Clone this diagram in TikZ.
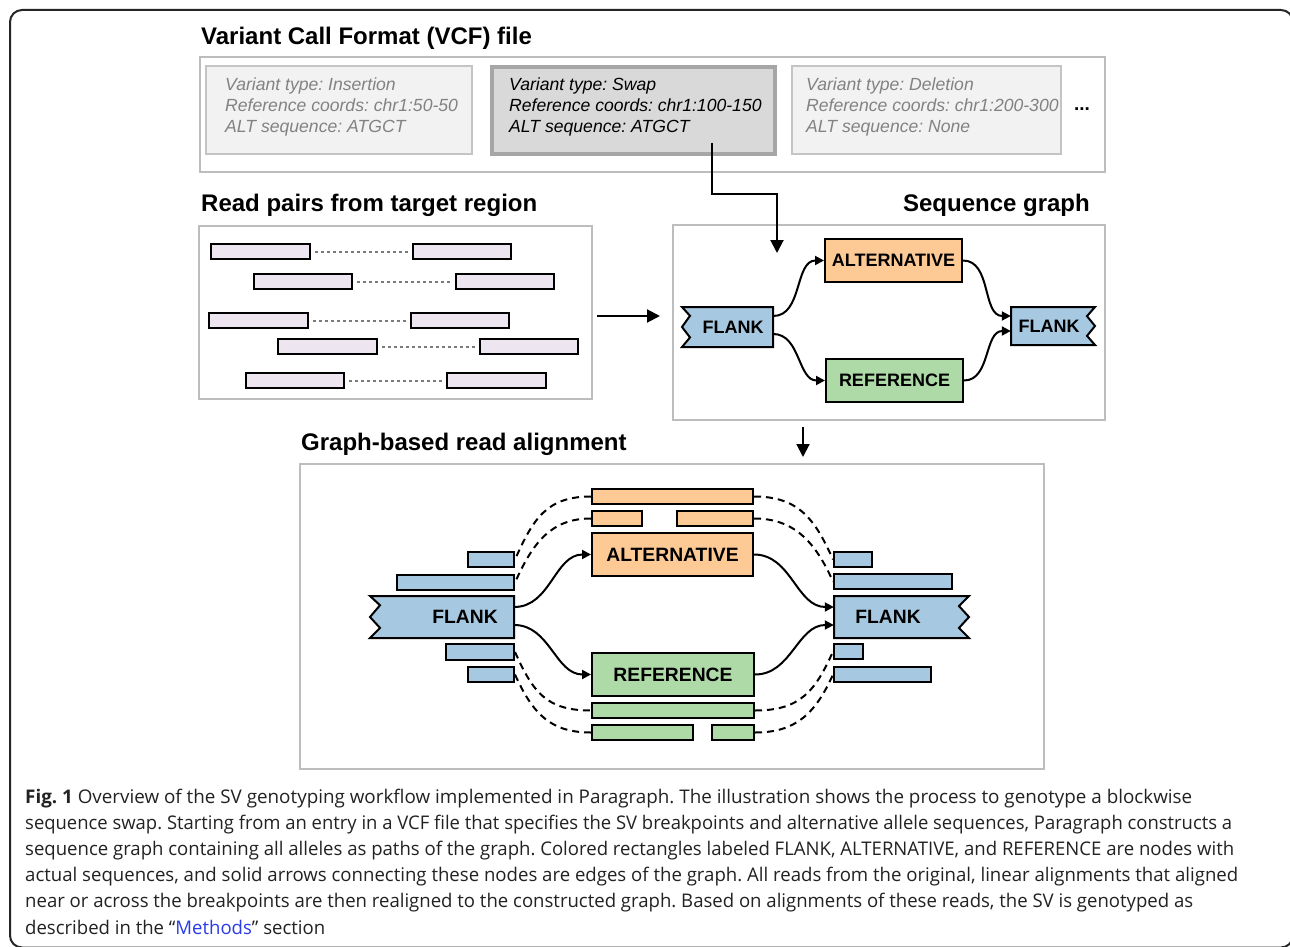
\documentclass[tikz,border=0pt]{standalone}
\usepackage{fontspec}
\usepackage{graphicx}
\setmainfont{Liberation Sans}
\newfontfamily\capfont{Open Sans}
\usetikzlibrary{arrows.meta,calc}
\frenchspacing
\definecolor{flankc}{HTML}{A7C8E1}
\definecolor{altc}{HTML}{FDCA96}
\definecolor{refc}{HTML}{AEDAA7}
\definecolor{readc}{HTML}{EDE6F0}
\definecolor{panelc}{HTML}{BDBDBD}
\definecolor{vcffill}{HTML}{F2F2F2}
\definecolor{vcfborder}{HTML}{C4C4C4}
\definecolor{selfill}{HTML}{D9D9D9}
\definecolor{selborder}{HTML}{A6A6A6}
\definecolor{vcfgray}{HTML}{828282}
\definecolor{dotgray}{HTML}{7A7A7A}
\definecolor{linkc}{HTML}{2B3BE6}
\definecolor{capc}{HTML}{222222}
\newsavebox{\capbox}
\newlength{\caplen}
\newcommand{\capline}[2]{\sbox{\capbox}{#2}\setlength{\caplen}{\wd\capbox}\pgfmathsetmacro{\capsx}{#1/\caplen}\scalebox{\capsx}[1]{\usebox{\capbox}}}
\newcommand{\mkbox}[7]{\node[#6, minimum width={(#4)-(#2)}, minimum height={(#5)-(#3)}] (#1) at ({((#2)+(#4))/2},{((#3)+(#5))/2}) {#7};}
\newcommand{\mkleftflank}[6]{%
  \node[invis, minimum width={(#4)-(#2)}, minimum height={(#5)-(#3)}] (#1) at ({((#2)+(#4))/2},{((#3)+(#5))/2}) {};
  \draw[flankshape] (#4,#3) -- (#2,#3) -- ({#2+#6},{#3+((#5)-(#3))*0.22}) -- (#2,{((#3)+(#5))/2}) -- ({#2+#6},{#3+((#5)-(#3))*0.76}) -- (#2,#5) -- (#4,#5) -- cycle;}
\newcommand{\mkrightflank}[6]{%
  \node[invis, minimum width={(#4)-(#2)}, minimum height={(#5)-(#3)}] (#1) at ({((#2)+(#4))/2},{((#3)+(#5))/2}) {};
  \draw[flankshape] (#2,#3) -- (#4,#3) -- ({#4-#6},{#3+((#5)-(#3))*0.24}) -- (#4,{((#3)+(#5))/2}) -- ({#4-#6},{#3+((#5)-(#3))*0.76}) -- (#4,#5) -- (#2,#5) -- cycle;}
\tikzset{
  panel/.style={draw=panelc, line width=2pt, fill=white, rectangle, inner sep=0pt},
  vcfbox/.style={draw=vcfborder, line width=2pt, fill=vcffill, rectangle, inner sep=0pt},
  vcfsel/.style={draw=selborder, line width=4pt, fill=selfill, rectangle, inner sep=0pt},
  readbar/.style={draw=black, line width=2pt, fill=readc, rectangle, inner sep=0pt},
  altbar/.style={readbar, fill=altc},
  refbar/.style={readbar, fill=refc},
  flankbar/.style={readbar, fill=flankc},
  invis/.style={rectangle, inner sep=0pt},
  flankshape/.style={draw=black, line width=2pt, fill=flankc, line join=miter},
  ttl/.style={font=\fontsize{24}{28}\selectfont\bfseries, inner sep=0pt},
  vcft/.style={font=\fontsize{17.6}{20}\selectfont\itshape, anchor=base west, inner sep=0pt},
  lbl/.style={font=\fontsize{18}{20}\selectfont\bfseries, inner sep=0pt},
  lblbig/.style={font=\fontsize{19.3}{22}\selectfont\bfseries, inner sep=0pt},
  gedge/.style={line width=2pt, -{Triangle[length=9pt,width=9pt]}},
  bigarrow/.style={line width=2pt, -{Triangle[length=13pt,width=13pt]}},
  readlink/.style={draw=dotgray, line width=2pt, dash pattern=on 3pt off 3pt, shorten <=4pt, shorten >=4pt},
  aln/.style={line width=2pt, dash pattern=on 7pt off 5pt},
  capt/.style={anchor=base west, inner sep=0pt, text=capc, font=\capfont\fontsize{18.8}{22}\selectfont},
}
\begin{document}
\begin{tikzpicture}[x=1pt,y=-1pt]
\useasboundingbox (0,0) rectangle (1290,947);
\fill[white] (0,0) rectangle (1290,947);
\begin{scope}
\clip (0,0) rectangle (1290,947);
\draw[line width=2pt, rounded corners=12pt, black!85] (10,10) rectangle (1293,947.5);
\end{scope}

% ---------- VCF panel ----------
\node[ttl, anchor=base west] (tvcf) at (201,45) {Variant Call Format (VCF) file};
\mkbox{vcf}{200}{57}{1105}{172}{panel}{}
\mkbox{vcfa}{206}{66}{472}{154}{vcfbox}{}
\mkbox{vcfb}{492}{67}{775}{154}{vcfsel}{}
\mkbox{vcfc}{792}{66}{1061}{154}{vcfbox}{}
\node[vcft, text=vcfgray] (va1) at (225,91) {Variant type: Insertion};
\node[vcft, text=vcfgray] (va2) at (225,112) {Reference coords: chr1:50-50};
\node[vcft, text=vcfgray] (va3) at (225,132) {ALT sequence: ATGCT};
\node[vcft, text=black] (vb1) at (509,91) {Variant type: Swap};
\node[vcft, text=black] (vb2) at (509,112) {Reference coords: chr1:100-150};
\node[vcft, text=black] (vb3) at (509,132) {ALT sequence: ATGCT};
\node[vcft, text=vcfgray] (vc1) at (806,91) {Variant type: Deletion};
\node[vcft, text=vcfgray] (vc2) at (806,112) {Reference coords: chr1:200-300};
\node[vcft, text=vcfgray] (vc3) at (806,132) {ALT sequence: None};
\node[font=\fontsize{19}{20}\selectfont\bfseries, inner sep=0pt, anchor=base] (dots) at (1082,111) {...};

% ---------- Read pairs ----------
\node[ttl, anchor=base west] (tread) at (201,211) {Read pairs from target region};
\mkbox{readpanel}{199}{226}{592}{399}{panel}{}
\mkbox{r1a}{211}{244}{310}{259}{readbar}{}
\mkbox{r1b}{413}{244}{511}{259}{readbar}{}
\mkbox{r2a}{254}{274}{352}{289}{readbar}{}
\mkbox{r2b}{456}{274}{554}{289}{readbar}{}
\mkbox{r3a}{209}{313}{308}{328}{readbar}{}
\mkbox{r3b}{411}{313}{509}{328}{readbar}{}
\mkbox{r4a}{278}{339}{377}{354}{readbar}{}
\mkbox{r4b}{480}{339}{578}{354}{readbar}{}
\mkbox{r5a}{246}{373}{344}{388}{readbar}{}
\mkbox{r5b}{447}{373}{546}{388}{readbar}{}
\foreach \r in {r1,r2,r3,r4,r5}{\draw[readlink] (\r a.east) -- (\r b.west);}

% ---------- Sequence graph ----------
\node[ttl, anchor=base east] (tseq) at (1090,211) {Sequence graph};
\mkbox{seqpanel}{673}{225}{1105}{420}{panel}{}
\mkleftflank{sgL}{682}{307}{773}{347}{8}
\node[lbl] (sgLt) at (733,327) {FLANK};
\mkbox{sgA}{825}{239}{962}{282}{readbar, fill=altc, lbl}{ALTERNATIVE}
\mkbox{sgR}{826}{359}{963}{402}{readbar, fill=refc, lbl}{REFERENCE}
\mkrightflank{sgF}{1011}{307}{1095}{345}{8}
\node[lbl] (sgFt) at (1049,326) {FLANK};
\draw[gedge] ([yshift=11pt]sgL.east) to[out=0,in=180] (sgA.west);
\draw[gedge] ([yshift=-7pt]sgL.east) to[out=0,in=180] (sgR.west);
\draw[gedge] (sgA.east) to[out=0,in=180] ([yshift=10pt]sgF.west);
\draw[gedge] (sgR.east) to[out=0,in=180] ([yshift=-5pt]sgF.west);

% ---------- connectors between panels ----------
\coordinate (vcfout) at (712,143);
\coordinate (vcfbend) at (777,194);
\coordinate (sgin) at (777,253);
\draw[bigarrow] (vcfout) |- (vcfbend) -- (sgin);
\coordinate (rpout) at (597,316);
\coordinate (sgleft) at (660,316);
\draw[bigarrow] (rpout) -- (sgleft);
\coordinate (sgout) at (803,427);
\coordinate (alin) at (803,457);
\draw[bigarrow] (sgout) -- (alin);

% ---------- Graph-based read alignment ----------
\node[ttl, anchor=base west] (taln) at (301,450) {Graph-based read alignment};
\mkbox{alpanel}{300}{464}{1044}{769}{panel}{}
\mkleftflank{aL}{370}{596}{514}{638}{10}
\node[lblbig] (aLt) at (465,617) {FLANK};
\mkbox{aA}{592}{533}{753}{576}{readbar, fill=altc, lblbig}{ALTERNATIVE}
\mkbox{aR}{592}{653}{754}{696}{readbar, fill=refc, lblbig}{REFERENCE}
\mkrightflank{aF}{834}{596}{969}{638}{10}
\node[lblbig] (aFt) at (888,617) {FLANK};
% reads on alternative
\mkbox{a1}{592}{489}{753}{504}{altbar}{}
\mkbox{a2}{592}{511}{642}{526}{altbar}{}
\mkbox{a3}{677}{511}{753}{526}{altbar}{}
% reads on reference
\mkbox{g1}{592}{703}{754}{718}{refbar}{}
\mkbox{g2}{592}{725}{693}{740}{refbar}{}
\mkbox{g3}{712}{725}{754}{740}{refbar}{}
% reads on left flank
\mkbox{l1}{468}{552}{514}{567}{flankbar}{}
\mkbox{l2}{397}{575}{514}{590}{flankbar}{}
\mkbox{l3}{446}{644}{514}{660}{flankbar}{}
\mkbox{l4}{468}{667}{514}{682}{flankbar}{}
% reads on right flank
\mkbox{q1}{834}{552}{872}{567}{flankbar}{}
\mkbox{q2}{834}{574}{952}{589}{flankbar}{}
\mkbox{q3}{834}{644}{863}{659}{flankbar}{}
\mkbox{q4}{834}{667}{931}{682}{flankbar}{}
% graph edges
\draw[gedge] ([yshift=10pt]aL.east) to[out=0,in=180] (aA.west);
\draw[gedge] ([yshift=-8pt]aL.east) to[out=0,in=180] (aR.west);
\draw[gedge] (aA.east) to[out=0,in=180] ([yshift=10pt]aF.west);
\draw[gedge] (aR.east) to[out=0,in=180] ([yshift=-8pt]aF.west);
% dashed read links
\draw[aln] (a1.west) .. controls +(-45,0) and +(18,-40) .. (l1.east);
\draw[aln] (a2.west) .. controls +(-40,0) and +(18,-40) .. (l2.east);
\draw[aln] (a1.east) .. controls +(45,0) and +(-18,-40) .. (q1.west);
\draw[aln] (a3.east) .. controls +(40,0) and +(-18,-40) .. (q2.west);
\draw[aln] (l3.east) .. controls +(18,40) and +(-45,0) .. (g1.west);
\draw[aln] (l4.east) .. controls +(18,40) and +(-40,0) .. (g2.west);
\draw[aln] (g1.east) .. controls +(45,0) and +(-18,40) .. (q3.west);
\draw[aln] (g3.east) .. controls +(40,0) and +(-18,40) .. (q4.west);

% ---------- caption ----------
\node[capt] (cap1) at (25,803) {\capline{1167}{\textbf{Fig. 1} Overview of the SV genotyping workflow implemented in Paragraph. The illustration shows the process to genotype a blockwise}};
\node[capt] (cap2) at (25,829) {\capline{1207}{sequence swap. Starting from an entry in a VCF file that specifies the SV breakpoints and alternative allele sequences, Paragraph constructs a}};
\node[capt] (cap3) at (25,855) {\capline{1209}{sequence graph containing all alleles as paths of the graph. Colored rectangles labeled FLANK, ALTERNATIVE, and REFERENCE are nodes with}};
\node[capt] (cap4) at (25,881.5) {\capline{1213}{actual sequences, and solid arrows connecting these nodes are edges of the graph. All reads from the original, linear alignments that aligned}};
\node[capt] (cap5) at (25,907.5) {\capline{1168}{near or across the breakpoints are then realigned to the constructed graph. Based on alignments of these reads, the SV is genotyped as}};
\node[capt] (cap6) at (25,934) {\capline{300}{described in the “\textcolor{linkc}{Methods}” section}};
\end{tikzpicture}
\end{document}
